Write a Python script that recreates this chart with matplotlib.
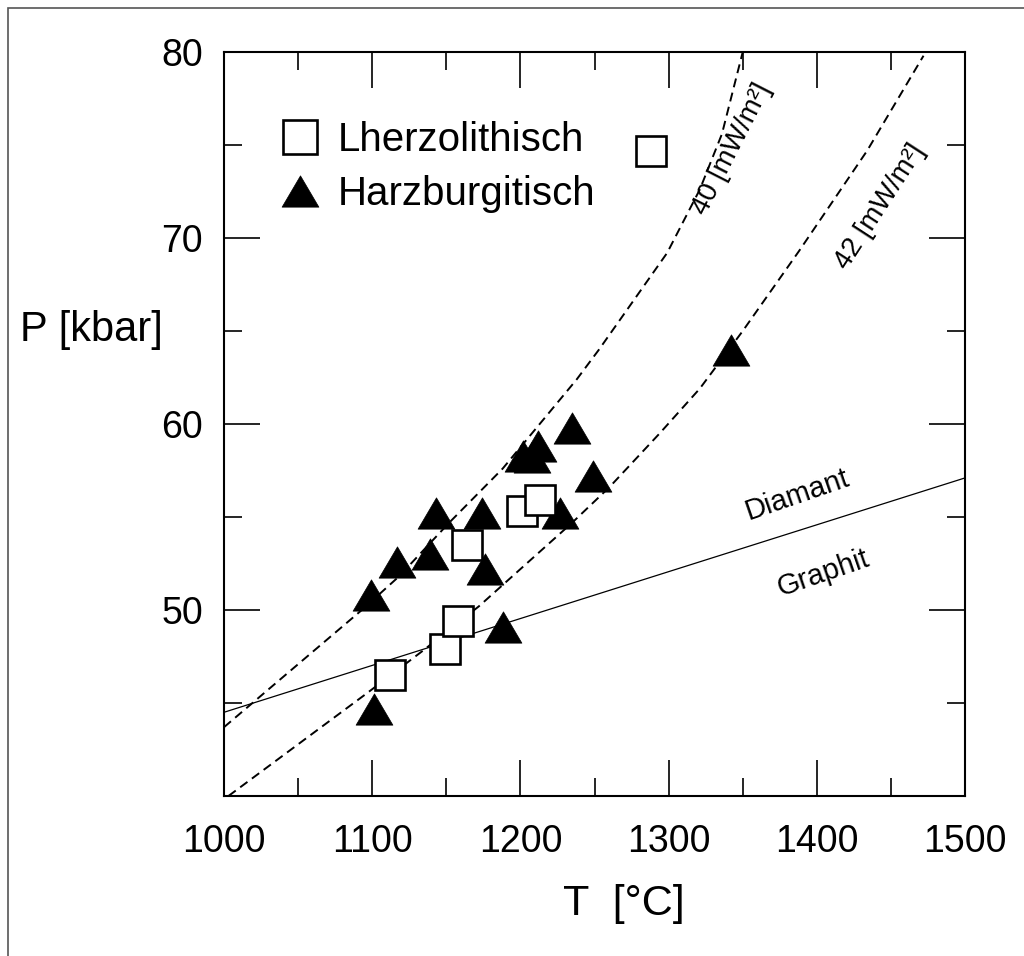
import matplotlib
matplotlib.use("Agg")
import matplotlib.pyplot as plt
from matplotlib.lines import Line2D
from matplotlib.patches import Rectangle
from matplotlib.path import Path
import numpy as np

plt.rcParams['font.family'] = ['Liberation Sans', 'DejaVu Sans']
plt.rcParams['lines.scale_dashes'] = False

# ---- data ----
lherz_T = [1288, 1112, 1149, 1158, 1164, 1201, 1213]
lherz_P = [74.7, 46.5, 47.9, 49.4, 53.5, 55.3, 55.9]

harz_T = [1099, 1117, 1139, 1143, 1174, 1176, 1202, 1208, 1212, 1235, 1249, 1227, 1188, 1101, 1342]
harz_P = [50.8, 52.6, 53.0, 55.2, 55.2, 52.2, 58.3, 58.2, 58.8, 59.8, 57.2, 55.2, 49.1, 44.7, 64.0]

geo40_T = [1000, 1093, 1118, 1152, 1188, 1238, 1253, 1299, 1321, 1336, 1350]
geo40_P = [43.7, 50.0, 51.8, 54.7, 57.6, 62.4, 64.0, 69.2, 72.6, 75.6, 80.0]

geo42_T = [1003, 1096, 1134, 1172, 1235, 1260, 1294, 1321, 1350, 1388, 1434, 1472]
geo42_P = [40.0, 45.5, 47.8, 50.2, 54.7, 56.6, 59.5, 61.9, 65.0, 69.3, 74.7, 79.8]

dg_T = [1000, 1500]
dg_P = [44.5, 57.1]

x_ticks = [1000, 1100, 1200, 1300, 1400, 1500]
y_ticks = [50, 60, 70, 80]

fig = plt.figure(figsize=(10.24, 9.56), dpi=100)
ax = fig.add_axes([0.2188, 0.1674, 0.7236, 0.7782])

# frame around figure (only top and left edges fall inside the image)
fig.patches.append(Rectangle((8/1024, -0.05), 1.2, 1 - 8/956 + 0.05, transform=fig.transFigure,
                             fill=False, lw=1.2, ec='#555555'))

ax.plot(dg_T, dg_P, color='black', lw=0.9, zorder=2)
ax.plot(geo40_T, geo40_P, color='black', lw=1.4, dashes=(6.5, 4), zorder=2)
ax.plot(geo42_T, geo42_P, color='black', lw=1.4, dashes=(6.5, 4), zorder=2)

tri = Path([(-1, -0.85), (1, -0.85), (0, 0.85), (-1, -0.85)],
           [Path.MOVETO, Path.LINETO, Path.LINETO, Path.CLOSEPOLY])

ax.plot(harz_T, harz_P, linestyle='none', marker=tri, ms=26.5, mfc='black', mec='black',
        mew=0.5, zorder=3)
ax.plot(lherz_T, lherz_P, linestyle='none', marker='s', ms=22, mfc='white', mec='black',
        mew=1.9, zorder=4)

ax.set_xlim(1000, 1500)
ax.set_ylim(40, 80)
ax.set_xticks(x_ticks)
ax.set_xticks(np.arange(1050, 1500, 100), minor=True)
ax.set_yticks(y_ticks)
ax.set_yticks(np.arange(45, 80, 10), minor=True)
ax.set_yticklabels([str(v) for v in y_ticks])
ax.set_xticklabels([str(v) for v in x_ticks])

ax.tick_params(which='both', direction='in', top=True, right=True, width=1.2)
ax.tick_params(which='major', length=26, labelsize=27)
ax.tick_params(which='minor', length=13)
ax.tick_params(axis='y', which='major', pad=15)
ax.tick_params(axis='x', which='major', pad=20)
for s in ax.spines.values():
    s.set_linewidth(1.5)

# legend
handles = [Line2D([], [], linestyle='none', marker='s', ms=24, mfc='white', mec='black', mew=1.9),
           Line2D([], [], linestyle='none', marker=tri, ms=26.5, mfc='black', mec='black', mew=0.5)]
ax.legend(handles, ['Lherzolithisch', 'Harzburgitisch'], loc='upper left',
          bbox_to_anchor=(0.0756, 0.9073), frameon=False, fontsize=29,
          handlelength=1.0, handletextpad=0.42, labelspacing=0.4,
          borderpad=0, borderaxespad=0)

# annotations
ax.text(1343, 74.8, '40 [mW/m²]', rotation=63, fontsize=20, ha='center', va='center')
ax.text(1443, 71.7, '42 [mW/m²]', rotation=57, fontsize=20, ha='center', va='center')
ax.text(1387, 56.2, 'Diamant', rotation=19, fontsize=21, ha='center', va='center')
ax.text(1404, 52.0, 'Graphit', rotation=19, fontsize=21, ha='center', va='center')

fig.text(624/1024, 1 - 904/956, 'T  [°C]', fontsize=31, ha='center', va='center')
fig.text(20/1024, 1 - 330/956, 'P [kbar]', fontsize=30, ha='left', va='center')

fig.savefig('out.png', dpi=100)
